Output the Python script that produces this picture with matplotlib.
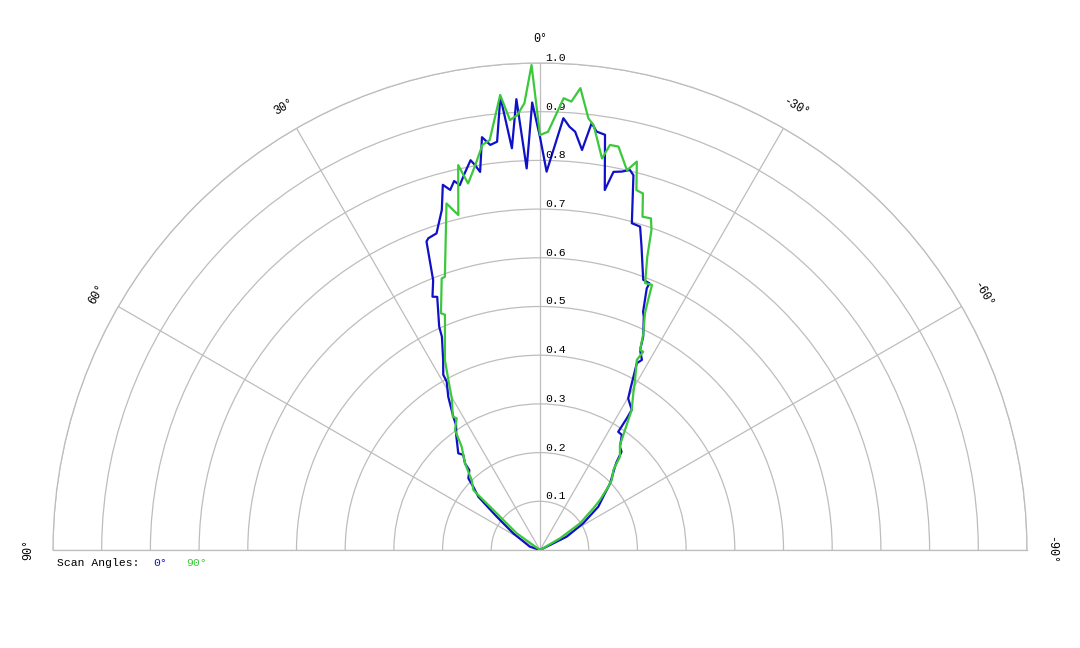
import numpy as np
import matplotlib
matplotlib.use("Agg")
import matplotlib.pyplot as plt
from matplotlib.transforms import offset_copy

# scan at 0 deg (blue): angle in degrees, relative intensity
blue_deg = [90, 71.7, 58, 52.4, 49.2, 46.5, 45, 41.5, 40.9, 38.9, 40.2, 36.1, 33.9, 33, 30.9,
            29, 28.9, 27, 24.7, 24.3, 22.1, 23, 21.6, 20.2, 19.7, 18.1, 16.1, 14.9, 14, 13.1,
            12.4, 11.3, 10.1, 9.6, 9, 8, 7, 6, 5, 4, 3, 2, 1, 0, -1, -3.1, -4, -4.8, -6, -6.9,
            -7.7, -8.9, -10.2, -11, -12.2, -13.3, -14, -15.7, -16.5, -17.2, -18.5, -20.4, -20.9,
            -22.3, -22.2, -23.4, -24, -25.8, -26.6, -28.2, -27.4, -29.4, -30.2, -33.2, -33.4,
            -33.5, -35.4, -37.8, -39.7, -41, -42, -46.4, -48.9, -53.4, -58.3, -63.5, -90]
blue_val = [0, 0.022, 0.065, 0.112, 0.167, 0.189, 0.208, 0.219, 0.235, 0.251, 0.26, 0.292, 0.309,
            0.327, 0.367, 0.395, 0.411, 0.438, 0.482, 0.503, 0.561, 0.565, 0.596, 0.675, 0.68,
            0.684, 0.727, 0.776, 0.762, 0.778, 0.767, 0.789, 0.813, 0.802, 0.786, 0.856, 0.838,
            0.843, 0.934, 0.827, 0.927, 0.784, 0.919, 0.848, 0.777, 0.888, 0.871, 0.862, 0.826,
            0.883, 0.867, 0.863, 0.751, 0.791, 0.795, 0.802, 0.793, 0.697, 0.696, 0.695, 0.657,
            0.606, 0.594, 0.592, 0.58, 0.533, 0.524, 0.487, 0.459, 0.443, 0.432, 0.377, 0.36,
            0.344, 0.324, 0.291, 0.29, 0.268, 0.262, 0.24, 0.23, 0.199, 0.177, 0.149, 0.104,
            0.061, 0]

# scan at 90 deg (green)
green_deg = [90, 54.4, 49.7, 48.4, 48, 44.3, 40.9, 37.2, 35.3, 32.3, 33.2, 30.2, 28.3, 26.6, 22,
             22.7, 19.9, 19.2, 15.1, 13.7, 12, 11.1, 9.6, 8.1, 7, 5, 4, 3, 2, 1, 0, -1.1, -3,
             -4, -5, -6.4, -7.2, -9, -9.8, -11, -12.9, -14, -15, -16.1, -17.1, -18.5, -19.2,
             -20.1, -21.5, -22.9, -23.4, -23.9, -25.5, -26.6, -27.5, -27, -29.2, -30.8, -33.2,
             -35.3, -37.3, -40.6, -42.5, -45.7, -47.2, -50.2, -52, -56.3, -59.7, -90]
green_val = [0, 0.059, 0.117, 0.165, 0.184, 0.201, 0.235, 0.266, 0.302, 0.32, 0.327, 0.36, 0.397,
             0.436, 0.521, 0.527, 0.593, 0.594, 0.737, 0.708, 0.808, 0.767, 0.80, 0.84, 0.848,
             0.938, 0.885, 0.894, 0.918, 0.996, 0.852, 0.859, 0.929, 0.923, 0.952, 0.892, 0.879,
             0.814, 0.844, 0.844, 0.8, 0.822, 0.765, 0.762, 0.716, 0.718, 0.696, 0.641, 0.589,
             0.591, 0.559, 0.532, 0.493, 0.459, 0.459, 0.438, 0.4, 0.374, 0.344, 0.302, 0.271,
             0.252, 0.223, 0.206, 0.191, 0.16, 0.139, 0.099, 0.048, 0]

ring_values = [0.1, 0.2, 0.3, 0.4, 0.5, 0.6, 0.7, 0.8, 0.9, 1.0]
spoke_angles = [-90, -60, -30, 0, 30, 60, 90]

mono = "Liberation Mono"
grid_c = "#bdbdbd"
blue_c = "#1010c8"
green_c = "#3cc83c"

fig = plt.figure(figsize=(10.8, 6.48), dpi=100)
# the half wedge is padded to a square box, so give the axes a 974x974 px square
# with the centre sitting a quarter up from its bottom (pixel 540, 550)
R = 487
ax = fig.add_axes([(540 - R) / 1080, (648 - 550 - R / 2) / 648, 2 * R / 1080, 2 * R / 648],
                  projection="polar")
ax.set_theta_zero_location("N")
ax.set_theta_direction(1)
ax.set_thetamin(-90)
ax.set_thetamax(90)
ax.set_rlim(0, 1.0)

ax.set_rgrids(ring_values, labels=[])
ax.set_thetagrids(spoke_angles, labels=[])
ax.grid(True, color=grid_c, linewidth=0.9)
for s in ax.spines.values():
    s.set_color(grid_c)
    s.set_linewidth(0.9)

ax.plot(np.deg2rad(blue_deg), blue_val, color=blue_c, lw=1.6, zorder=3)
ax.plot(np.deg2rad(green_deg), green_val, color=green_c, lw=1.6, zorder=4)

# angle labels round the rim, turned with the angle
for a in spoke_angles:
    ax.text(np.deg2rad(a), 1.05, f"{a}°", rotation=a, ha="center", va="center",
            family=mono, fontsize=8.5, clip_on=False)

# ring labels along the 0 deg spoke
tr = offset_copy(ax.transData, fig=fig, x=3.5, y=1.5, units="points")
for r in ring_values:
    ax.text(0, r, f"{r:.1f}", transform=tr, ha="left", va="baseline",
            family=mono, fontsize=8.2, clip_on=False)

fig.text(57 / 1080, 1 - 563 / 648, "Scan Angles:", va="center", family=mono, fontsize=8.2)
fig.text(153 / 1080, 1 - 563 / 648, "0°", va="center", family=mono, fontsize=8.2, color=blue_c)
fig.text(186 / 1080, 1 - 563 / 648, "90°", va="center", family=mono, fontsize=8.2, color=green_c)

fig.savefig("out.png", dpi=100)
